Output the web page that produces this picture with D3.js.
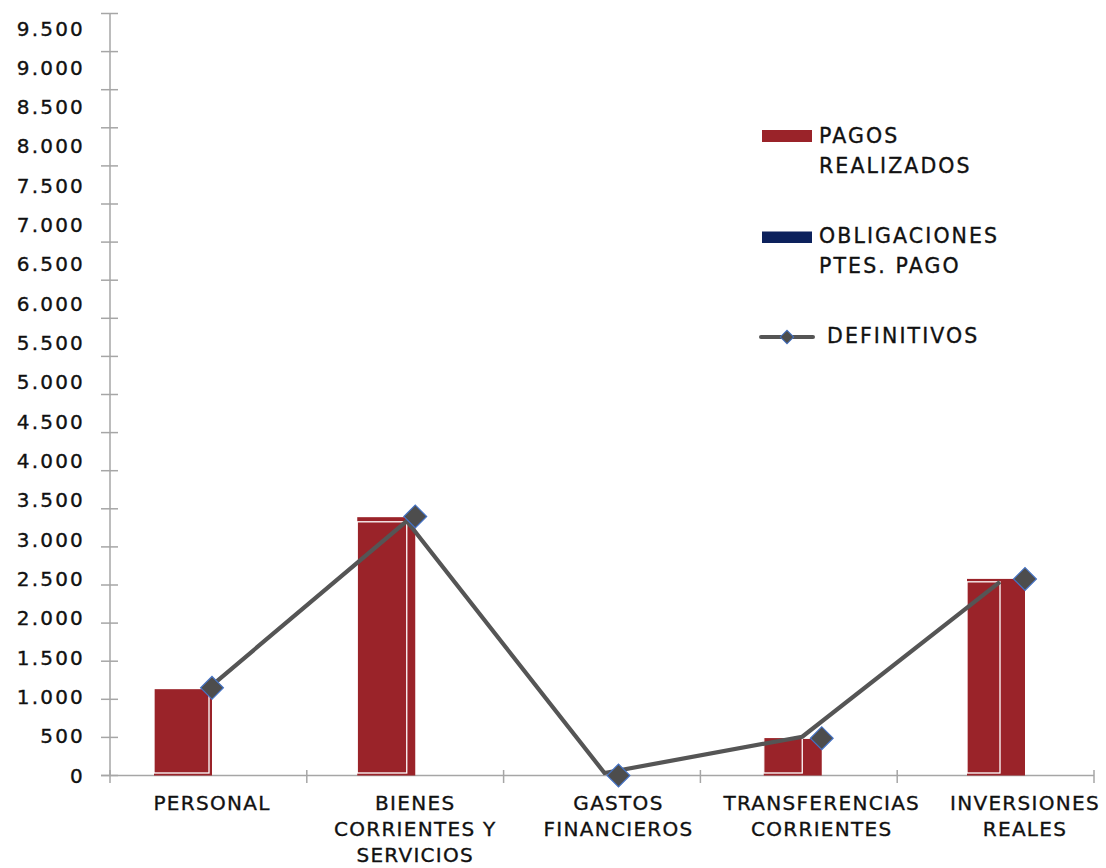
<!DOCTYPE html>
<html>
<head>
<meta charset="utf-8">
<script src="https://cdn.jsdelivr.net/npm/d3@7"></script>
<style>
  html, body { margin: 0; padding: 0; background: #ffffff; }
  svg { display: block; }
  text { font-family: "DejaVu Sans", sans-serif; fill: #111; stroke: #111; stroke-width: 0.35px; }
</style>
</head>
<body>
<svg id="chart" width="1106" height="868"></svg>
<script>
// ---- data ----
const categories = ["PERSONAL", "BIENES CORRIENTES Y SERVICIOS", "GASTOS FINANCIEROS", "TRANSFERENCIAS CORRIENTES", "INVERSIONES REALES"];
const categoryLines = [["PERSONAL"], ["BIENES", "CORRIENTES Y", "SERVICIOS"], ["GASTOS", "FINANCIEROS"], ["TRANSFERENCIAS", "CORRIENTES"], ["INVERSIONES", "REALES"]];
const pagosRealizados = [1140, 3390, 0, 480, 2580];
const obligacionesPtes = [0, 0, 0, 0, 0];
const definitivos = [1150, 3400, 0, 490, 2580];
const tickValues = [0, 500, 1000, 1500, 2000, 2500, 3000, 3500, 4000, 4500, 5000, 5500, 6000, 6500, 7000, 7500, 8000, 8500, 9000, 9500, 10000];
const tickLabels = ["0", "500", "1.000", "1.500", "2.000", "2.500", "3.000", "3.500", "4.000", "4.500", "5.000", "5.500", "6.000", "6.500", "7.000", "7.500", "8.000", "8.500", "9.000", "9.500"];
const legendItems = [
  { key: "pagos", lines: ["PAGOS", "REALIZADOS"] },
  { key: "oblig", lines: ["OBLIGACIONES", "PTES. PAGO"] },
  { key: "def", lines: ["DEFINITIVOS"] }
];

const RED = "#9a2329", NAVY = "#0c215c", LINE = "#555555", AXIS = "#a6a6a6";

const svg = d3.select("#chart");

// ---- scales ----
const yAxisScale = d3.scaleLinear().domain([0, 10000]).range([775.5, 13.5]);
const yFront = d3.scaleLinear().domain([0, 10000]).range([773, 32]);
const yLabel = d3.scaleLinear().domain([0, 9500]).range([775, 28]);
const xBand = d3.scaleBand().domain(categories).range([110, 1094]).padding(0);
const xMark = d3.scalePoint().domain(categories).range([212, 1025]);
const xLine = d3.scalePoint().domain(categories).range([209, 1000]);
const barW = 58;

// ---- axes ----
const axisG = svg.append("g");
axisG.append("line").attr("x1", 110).attr("x2", 110)
  .attr("y1", yAxisScale(10000)).attr("y2", yAxisScale(0))
  .attr("stroke", AXIS).attr("stroke-width", 1.5);
axisG.selectAll(".yt").data(tickValues).join("line")
  .attr("x1", 101).attr("x2", 118)
  .attr("y1", d => yAxisScale(d)).attr("y2", d => yAxisScale(d))
  .attr("stroke", AXIS).attr("stroke-width", 1.5);
axisG.append("line").attr("x1", 101).attr("x2", 1094)
  .attr("y1", yAxisScale(0)).attr("y2", yAxisScale(0))
  .attr("stroke", AXIS).attr("stroke-width", 1.5);
const xTickPos = categories.map(c => xBand(c)).concat([xBand.range()[1]]);
axisG.selectAll(".xt").data(xTickPos).join("line")
  .attr("x1", d => d).attr("x2", d => d)
  .attr("y1", 770).attr("y2", 783)
  .attr("stroke", AXIS).attr("stroke-width", 1.5);

svg.append("g").selectAll("text").data(tickLabels).join("text")
  .attr("x", 85).attr("y", (d, i) => yLabel(tickValues[i]) + 7.5)
  .attr("text-anchor", "end")
  .style("font-size", "20px").style("letter-spacing", "2.2px")
  .text(d => d);

// ---- bars ----
const idx = d3.range(categories.length);
const barG = svg.append("g");
barG.selectAll(".back").data(idx.filter(i => pagosRealizados[i] > 0)).join("rect")
  .attr("x", i => xMark(categories[i]) - barW)
  .attr("width", barW)
  .attr("y", i => yAxisScale(pagosRealizados[i]))
  .attr("height", i => yAxisScale(0) - yAxisScale(pagosRealizados[i]))
  .attr("fill", RED);
barG.selectAll(".front").data(idx.filter(i => pagosRealizados[i] > 0)).join("rect")
  .attr("x", i => xMark(categories[i]) - barW)
  .attr("width", i => xLine(categories[i]) - (xMark(categories[i]) - barW))
  .attr("y", i => yFront(pagosRealizados[i]))
  .attr("height", i => yFront(0) - yFront(pagosRealizados[i]))
  .attr("fill", RED).attr("stroke", "#ffffff").attr("stroke-width", 1.3);
// obligaciones pendientes de pago (stacked on top, zero-height here)
barG.selectAll(".obl").data(idx).join("rect")
  .attr("x", i => xMark(categories[i]) - barW)
  .attr("width", barW)
  .attr("y", i => yAxisScale(pagosRealizados[i] + obligacionesPtes[i]))
  .attr("height", i => yAxisScale(pagosRealizados[i]) - yAxisScale(pagosRealizados[i] + obligacionesPtes[i]))
  .attr("fill", NAVY);

// ---- line ----
const lineGen = d3.line().x(i => xLine(categories[i])).y(i => yFront(definitivos[i]));
svg.append("path").datum(idx).attr("d", lineGen)
  .attr("fill", "none").attr("stroke", LINE).attr("stroke-width", 4.2)
  .attr("stroke-linejoin", "miter");

svg.append("g").selectAll("path").data(idx).join("path")
  .attr("d", d3.symbol().type(d3.symbolSquare).size(260))
  .attr("transform", i => `translate(${xMark(categories[i])},${yAxisScale(definitivos[i])}) rotate(45)`)
  .attr("fill", "#4d4d4d").attr("stroke", "#4472c4").attr("stroke-width", 1.2);

// ---- category labels ----
const catG = svg.append("g");
categories.forEach((c, i) => {
  const t = catG.append("text").attr("text-anchor", "middle")
    .style("font-size", "20px").style("letter-spacing", "1.3px");
  categoryLines[i].forEach((ln, j) => {
    t.append("tspan").attr("x", xMark(c)).attr("y", 810 + j * 26).text(ln);
  });
});

// ---- legend ----
const lg = svg.append("g");
lg.append("rect").attr("x", 762).attr("y", 130).attr("width", 50).attr("height", 12).attr("fill", RED);
lg.append("rect").attr("x", 762).attr("y", 231.5).attr("width", 50).attr("height", 11.5).attr("fill", NAVY);
lg.append("line").attr("x1", 761).attr("x2", 813).attr("y1", 337).attr("y2", 337)
  .attr("stroke", LINE).attr("stroke-width", 4).attr("stroke-linecap", "round");
lg.append("path").attr("d", d3.symbol().type(d3.symbolSquare).size(90))
  .attr("transform", "translate(787,337) rotate(45)")
  .attr("fill", "#4d4d4d").attr("stroke", "#4472c4").attr("stroke-width", 1);
const legendPos = [{ x: 819, y: 143 }, { x: 819, y: 243 }, { x: 827, y: 343 }];
legendItems.forEach((it, k) => {
  const t = lg.append("text").style("font-size", "20.5px").style("letter-spacing", "2.1px");
  it.lines.forEach((ln, j) => {
    t.append("tspan").attr("x", legendPos[k].x).attr("y", legendPos[k].y + j * 29.5).text(ln);
  });
});
</script>
</body>
</html>
